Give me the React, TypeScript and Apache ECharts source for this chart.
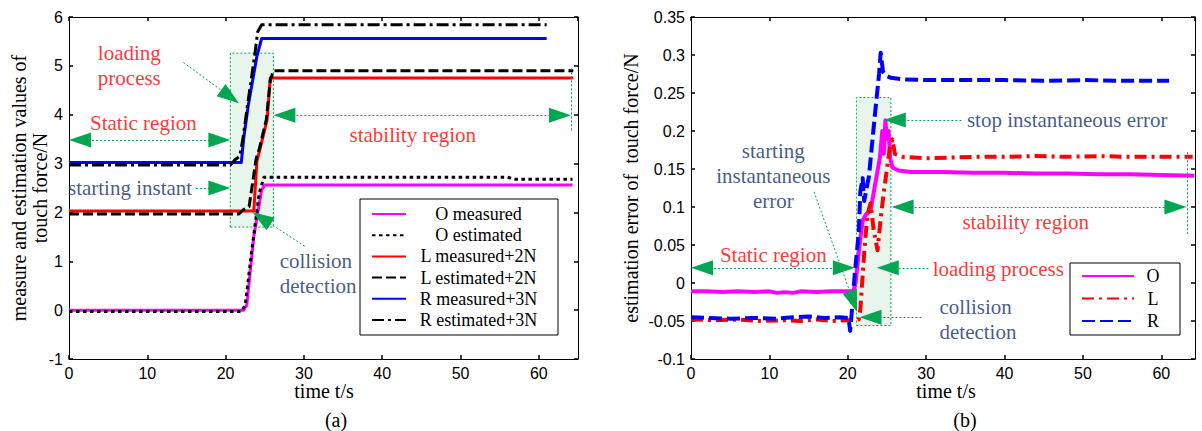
import React, { useEffect, useRef } from 'react';
import * as echarts from 'echarts';

// ---------- data: panel (a) ----------
const oMeasured: [number, number][] = [[0, 0], [22.3, 0], [22.7, 0.1], [23.6, 1.5], [24.6, 2.46], [25.0, 2.56], [64.3, 2.56]];
const oEstimated: [number, number][] = [[0, -0.03], [22.0, -0.03], [22.5, 0.1], [23.4, 1.3], [24.3, 2.4], [24.9, 2.72], [56, 2.72], [57, 2.68], [64.3, 2.68]];
const lMeasured: [number, number][] = [[0, 2.03], [23.6, 2.03], [24.0, 3.05], [24.4, 3.3], [25.3, 3.9], [25.7, 4.75], [64.4, 4.75]];
const lEstimated: [number, number][] = [[0, 1.97], [21.7, 1.97], [22.3, 2.06], [23.0, 2.12], [23.9, 3.1], [24.3, 3.3], [25.2, 3.9], [25.7, 4.7], [26.1, 4.9], [64.4, 4.9]];
const rMeasured: [number, number][] = [[0, 3.02], [22.0, 3.02], [22.3, 3.5], [22.9, 4.2], [24.0, 5.2], [24.6, 5.56], [61.0, 5.56]];
const rEstimated: [number, number][] = [[0, 2.97], [20.6, 2.97], [21.2, 3.08], [21.8, 3.15], [22.2, 3.5], [22.8, 4.2], [23.7, 5.2], [24.1, 5.7], [24.6, 5.84], [61.0, 5.84]];

// ---------- data: panel (b) ----------
const oError: [number, number][] = [[0, -0.011], [2, -0.011], [4, -0.012], [6, -0.011], [8, -0.012], [10, -0.011], [11, -0.013], [12, -0.012], [13, -0.013], [14, -0.011], [16, -0.012], [18, -0.011], [20.7, -0.011], [21.0, 0.0], [21.5, 0.05], [21.9, 0.082], [22.3, 0.09], [22.9, 0.095], [23.5, 0.13], [24.1, 0.165], [24.4, 0.2], [24.6, 0.17], [24.8, 0.214], [25.0, 0.19], [25.2, 0.2], [25.4, 0.165], [25.7, 0.152], [26.5, 0.148], [28, 0.146], [32, 0.146], [36, 0.145], [40, 0.145], [44, 0.144], [48, 0.144], [52, 0.143], [56, 0.143], [60, 0.142], [64.2, 0.141]];
const lError: [number, number][] = [[0, -0.048], [3, -0.049], [6, -0.048], [9, -0.05], [12, -0.049], [14, -0.05], [16, -0.048], [18, -0.05], [20, -0.049], [21.4, -0.048], [21.6, -0.035], [22.1, 0.04], [22.5, 0.09], [22.9, 0.105], [23.3, 0.07], [23.8, 0.043], [24.2, 0.085], [24.6, 0.12], [25.0, 0.15], [25.4, 0.18], [25.7, 0.189], [26.0, 0.17], [27, 0.166], [30, 0.164], [33, 0.165], [36, 0.166], [40, 0.166], [44, 0.167], [48, 0.166], [52, 0.167], [56, 0.166], [60, 0.166], [64, 0.166]];
const rError: [number, number][] = [[0, -0.045], [2, -0.046], [5, -0.047], [8, -0.046], [11, -0.047], [13, -0.045], [15, -0.044], [17, -0.046], [19, -0.045], [20.1, -0.046], [20.3, -0.063], [20.5, -0.04], [20.9, 0.013], [21.4, 0.066], [21.6, 0.12], [21.9, 0.138], [22.1, 0.108], [22.4, 0.125], [22.7, 0.14], [23.4, 0.215], [24.0, 0.276], [24.2, 0.303], [24.5, 0.278], [25.0, 0.272], [25.5, 0.27], [27, 0.268], [30, 0.267], [35, 0.267], [40, 0.267], [45, 0.266], [50, 0.267], [55, 0.266], [61, 0.266]];

const legendA = ['O measured', 'O estimated', 'L measured+2N', 'L estimated+2N', 'R measured+3N', 'R estimated+3N'];
const legendB = ['O', 'L', 'R'];

// ---------- annotations (data coordinates) ----------
const RED = '#ff0000';
const NAVY = '#14306c';
const GREEN = '#00a650';

const notesA = [
  { at: [9.5, 3.83], text: 'Static region', color: RED, align: 'center' },
  { at: [7.7, 5.0], text: 'loading\nprocess', color: RED, align: 'center' },
  { at: [7.8, 2.5], text: 'starting instant', color: NAVY, align: 'center' },
  { at: [43.9, 3.58], text: 'stability region', color: RED, align: 'center' },
  { at: [26.9, 0.748], text: 'collision\ndetection', color: NAVY, align: 'left' },
];
const notesB = [
  { at: [48.0, 0.2145], text: 'stop instantaneous error', color: NAVY, align: 'center' },
  { at: [42.7, 0.08], text: 'stability region', color: RED, align: 'center' },
  { at: [10.5, 0.037], text: 'Static region', color: RED, align: 'center' },
  { at: [39.2, 0.018], text: 'loading process', color: RED, align: 'center' },
  { at: [31.7, -0.048], text: 'collision\ndetection', color: NAVY, align: 'left' },
  { at: [10.5, 0.141], text: 'starting\ninstantaneous\nerror', color: NAVY, align: 'center' },
];
// [from, to, headAtFrom, headAtTo]
const arrowsA: [number[], number[], boolean, boolean][] = [
  [[1.4, 3.48], [19.2, 3.48], true, true],
  [[14.6, 5.07], [20.56, 4.37], false, true],
  [[16.2, 2.5], [19.2, 2.5], false, true],
  [[27.5, 3.99], [62.7, 3.99], true, true],
  [[64.1, 4.95], [64.1, 3.65], false, false],
  [[30.1, 1.31], [24.58, 1.887], false, true],
];
const arrowsB: [number[], number[], boolean, boolean][] = [
  [[34.5, 0.2145], [26.0, 0.2145], false, true],
  [[27.0, 0.1], [61.8, 0.1], true, true],
  [[63.3, 0.172], [63.3, 0.0645], false, false],
  [[1.4, 0.02], [19.5, 0.02], true, true],
  [[30.3, 0.02], [25.1, 0.02], false, true],
  [[29.4, -0.045], [22.9, -0.045], false, true],
  [[15.7, 0.12], [20.72, -0.0244], false, true],
];
const boxA = [[20.6, 1.7], [26.1, 5.26]];
const boxB = [[21.1, -0.056], [25.5, 0.244]];

const SERIF = '"Liberation Serif", "Times New Roman", serif';
const SANS = '"Liberation Sans", Arial, sans-serif';

function axisPair(grid: number, min: number, max: number, interval: number, dir: 'x' | 'y') {
  const common = {
    gridIndex: grid, type: 'value', min, max, interval,
    splitLine: { show: false },
    axisLine: { show: true, onZero: false, lineStyle: { color: '#000', width: 1 } },
    axisTick: { show: true, inside: true, length: 4, lineStyle: { color: '#000', width: 1.5 } },
  };
  const main = {
    ...common,
    position: dir === 'x' ? 'bottom' : 'left',
    axisLabel: { show: true, color: '#000', fontFamily: SANS, fontSize: 16, margin: 6, showMaxLabel: dir === 'x' ? false : true },
  };
  const other = { ...common, position: dir === 'x' ? 'top' : 'right', axisLabel: { show: false } };
  return [main, other];
}

function lineSeries(name: string, data: [number, number][], color: string, width: number, type: any, axis: number) {
  return {
    name, type: 'line', data, xAxisIndex: axis * 2, yAxisIndex: axis * 2, symbol: 'none', z: 3,
    lineStyle: { color, width, type, cap: 'butt', join: 'round' }, itemStyle: { color },
    silent: true,
  };
}

function annotSeries(axis: number, notes: any[], arrows: any[]) {
  return {
    type: 'scatter', xAxisIndex: axis * 2, yAxisIndex: axis * 2, z: 6, silent: true, clip: false,
    symbolSize: 1, itemStyle: { color: 'rgba(0,0,0,0)' },
    data: notes.map((n) => ({
      value: n.at,
      label: { show: true, position: 'inside', formatter: n.text, color: n.color, align: n.align, fontFamily: SERIF, fontSize: 21, lineHeight: 25 },
    })),
    markLine: {
      silent: true, animation: false, symbolSize: [15, 22],
      lineStyle: { color: GREEN, type: [2, 2], width: 1 },
      label: { show: false },
      emphasis: { disabled: true },
      data: arrows.map((a) => [
        { coord: a[0], symbol: a[2] ? 'triangle' : 'none' },
        { coord: a[1], symbol: a[3] ? 'triangle' : 'none' },
      ]),
    },
  };
}

function boxSeries(axis: number, box: number[][]) {
  return {
    type: 'line', xAxisIndex: axis * 2, yAxisIndex: axis * 2, z: 1, silent: true, data: [], symbol: 'none',
    markArea: {
      silent: true,
      itemStyle: { color: '#e8f5ed', borderColor: GREEN, borderType: [2, 2], borderWidth: 1 },
      data: [[{ coord: box[0] }, { coord: box[1] }]],
    },
  };
}

export default function App() {
  const ref = useRef<HTMLDivElement>(null);
  useEffect(() => {
    const chart = echarts.init(ref.current!, undefined, { renderer: 'svg' });
    const [xa, xa2] = axisPair(0, 0, 65, 10, 'x');
    const [ya, ya2] = axisPair(0, -1, 6, 1, 'y');
    const [xb, xb2] = axisPair(1, 0, 64.3, 10, 'x');
    const [yb, yb2] = axisPair(1, -0.1, 0.35, 0.05, 'y');
    const legendCommon = (w: number) => ({
      orient: 'vertical', itemHeight: 20, backgroundColor: '#fff', borderColor: '#000', borderWidth: 1, borderRadius: 0,
      selectedMode: false,
      itemStyle: { color: 'rgba(0,0,0,0)', borderWidth: 0, opacity: 0 },
      formatter: (n: string) => `{t|${n}}`,
      textStyle: { rich: { t: { width: w, align: 'center', fontFamily: SERIF, fontSize: 18, lineHeight: 20, color: '#000' } } },
    });
    chart.setOption({
      animation: false,
      backgroundColor: '#fff',
      grid: [
        { left: 69, top: 17, width: 509, height: 342 },
        { left: 691, top: 17, width: 504, height: 342 },
      ],
      xAxis: [xa, xa2, xb, xb2],
      yAxis: [ya, ya2, yb, yb2],
      legend: [
        { ...legendCommon(135), data: legendA, left: 360, top: 199, itemWidth: 34, itemGap: 3.2, padding: [6, 12, 6, 11] },
        { ...legendCommon(28), data: legendB, left: 1070, top: 263, itemWidth: 52, itemGap: 4.5, padding: [4, 13, 5, 11] },
      ],
      graphic: [
        { type: 'text', x: 29.5, y: 188, rotation: Math.PI / 2, style: { text: 'measure and estimation values of\ntouch force/N', font: `20px ${SERIF}`, align: 'center', verticalAlign: 'middle', lineHeight: 21, fill: '#000' } },
        { type: 'text', x: 631, y: 188, rotation: Math.PI / 2, style: { text: 'estimation error of  touch force/N', font: `20px ${SERIF}`, align: 'center', verticalAlign: 'middle', fill: '#000' } },
        { type: 'text', x: 324, y: 391, style: { text: 'time t/s', font: `20px ${SERIF}`, align: 'center', verticalAlign: 'middle', fill: '#000' } },
        { type: 'text', x: 946, y: 391, style: { text: 'time t/s', font: `20px ${SERIF}`, align: 'center', verticalAlign: 'middle', fill: '#000' } },
        { type: 'text', x: 336, y: 420, style: { text: '(a)', font: `20px ${SERIF}`, align: 'center', verticalAlign: 'middle', fill: '#000' } },
        { type: 'text', x: 965, y: 420, style: { text: '(b)', font: `20px ${SERIF}`, align: 'center', verticalAlign: 'middle', fill: '#000' } },
      ],
      series: [
        boxSeries(0, boxA),
        boxSeries(1, boxB),
        lineSeries(legendA[0], oMeasured, '#ff00ff', 3, 'solid', 0),
        lineSeries(legendA[1], oEstimated, '#000', 3, [3.5, 3.5], 0),
        lineSeries(legendA[2], lMeasured, '#ff0000', 3, 'solid', 0),
        lineSeries(legendA[3], lEstimated, '#000', 3, [10, 4], 0),
        lineSeries(legendA[4], rMeasured, '#0000ff', 3, 'solid', 0),
        lineSeries(legendA[5], rEstimated, '#000', 3, [12, 4, 3, 4], 0),
        lineSeries(legendB[0], oError, '#ff00ff', 4, 'solid', 1),
        lineSeries(legendB[1], lError, '#ff0000', 4, [12, 5, 3, 5], 1),
        lineSeries(legendB[2], rError, '#0000ff', 4, [13, 5], 1),
        annotSeries(0, notesA, arrowsA),
        annotSeries(1, notesB, arrowsB),
      ],
    });
    return () => chart.dispose();
  }, []);
  return <div ref={ref} style={{ position: 'fixed', left: 0, top: 0, width: 1202, height: 431, background: '#fff' }} />;
}
